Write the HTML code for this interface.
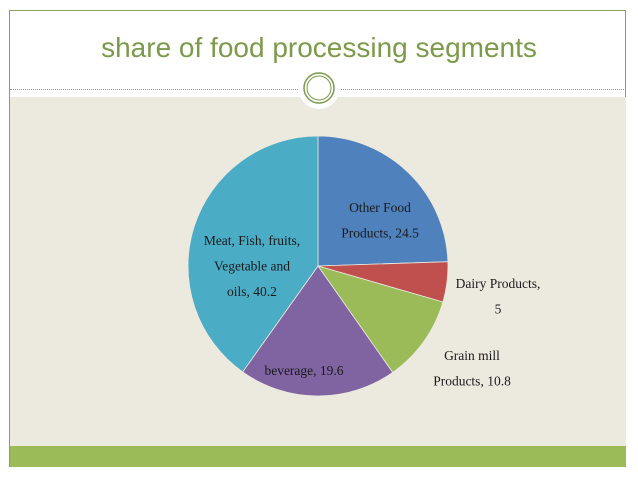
<!DOCTYPE html>
<html><head><meta charset="utf-8">
<style>
html,body{margin:0;padding:0;background:#fff;}
body{width:638px;height:479px;position:relative;overflow:hidden;font-family:"Liberation Sans",sans-serif;}
#frame{position:absolute;left:9px;top:10px;width:617px;height:457px;border:1px solid #8aa15a;box-sizing:border-box;}
#body-bg{position:absolute;left:10px;top:97px;width:616px;height:349px;background:#ece9df;}
#band{position:absolute;left:10px;top:446px;width:616px;height:21px;background:#9bbb59;}
#title{position:absolute;left:0;width:638px;top:32px;text-align:center;font-size:28px;color:#7b9a4a;}
#divider{position:absolute;left:10px;width:616px;top:89px;border-top:1px dotted #999;}
</style></head>
<body>
<div id="frame"></div>
<div id="body-bg"></div>
<div id="band"></div>
<div id="title">share of food processing segments</div>
<div id="divider"></div>
<svg id="ornament" width="638" height="479" style="position:absolute;left:0;top:0">
  <circle cx="319" cy="88" r="21" fill="#fff"/>
  <circle cx="319" cy="88" r="15" fill="#fff" stroke="#7b9a4a" stroke-width="1.5"/>
  <circle cx="319" cy="88" r="12" fill="#fff" stroke="#7b9a4a" stroke-width="1"/>
</svg>
<svg id="pie" width="638" height="479" style="position:absolute;left:0;top:0"></svg>
<script>
const categories = ["Other Food Products", "Dairy Products", "Grain mill Products", "beverage", "Meat, Fish, fruits, Vegetable and oils"];
const values = [24.5, 5, 10.8, 19.6, 40.2];
const colors = ["#4f81bd", "#c0504d", "#9bbb59", "#8064a2", "#4bacc6"];
const labelLines = [["Other Food","Products, 24.5"],["Dairy Products,","5"],["Grain mill","Products, 10.8"],["beverage, 19.6"],["Meat, Fish, fruits,","Vegetable and","oils, 40.2"]];
const labelPos = [[380,207],[498,283],[472,355],[304,370],[252,240]];

const svg = document.getElementById('pie');
const NS = "http://www.w3.org/2000/svg";
const cx = 318, cy = 266, R = 130;
const total = values.reduce((a,b)=>a+b,0);
function pt(frac){ const a = frac*2*Math.PI - Math.PI/2; return [cx+R*Math.cos(a), cy+R*Math.sin(a)]; }
let acc = 0;
values.forEach((v,i)=>{
  const f0 = acc/total, f1 = (acc+v)/total; acc += v;
  const p0 = pt(f0), p1 = pt(f1);
  const large = (f1-f0) > 0.5 ? 1 : 0;
  const path = document.createElementNS(NS,'path');
  path.setAttribute('d', `M${cx},${cy} L${p0[0]},${p0[1]} A${R},${R} 0 ${large} 1 ${p1[0]},${p1[1]} Z`);
  path.setAttribute('fill', colors[i]);
  path.setAttribute('stroke', '#ece9df');
  path.setAttribute('stroke-width', '0.8');
  
  
  svg.appendChild(path);
});
labelLines.forEach((lines,i)=>{
  const t = document.createElementNS(NS,'text');
  
  
  t.setAttribute('text-anchor', 'middle');
  t.setAttribute('font-family', '"Liberation Serif", serif');
  t.setAttribute('font-size', '13.5');
  t.setAttribute('fill', '#1a1a1a');
  lines.forEach((ln,j)=>{
    const ts = document.createElementNS(NS,'tspan');
    ts.setAttribute('x', labelPos[i][0]);
    ts.setAttribute('y', labelPos[i][1] + 5 + j*25.5);
    ts.textContent = ln;
    t.appendChild(ts);
  });
  svg.appendChild(t);
});
</script>
</body></html>
